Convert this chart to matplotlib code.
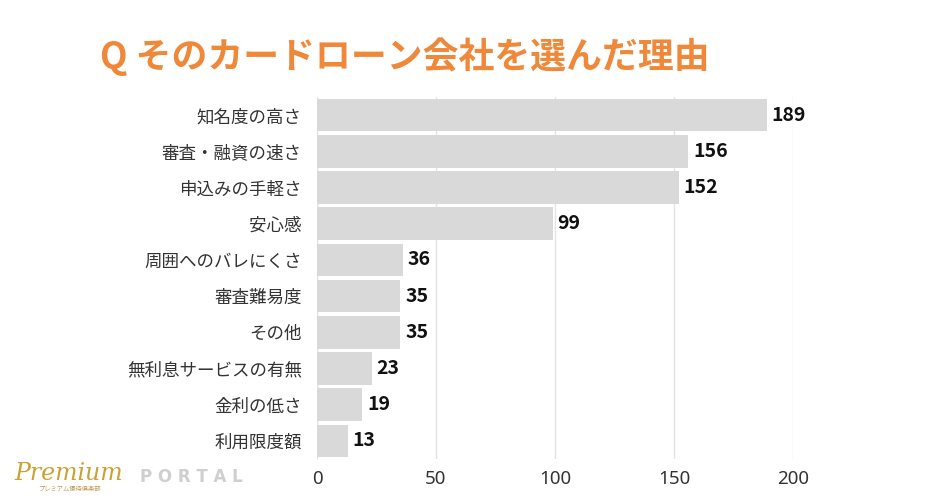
import matplotlib
matplotlib.use("Agg")
import matplotlib.pyplot as plt

plt.rcParams['font.family'] = ['Noto Sans CJK JP', 'DejaVu Sans']

categories = ["知名度の高さ", "審査・融資の速さ", "申込みの手軽さ", "安心感", "周囲へのバレにくさ",
              "審査難易度", "その他", "無利息サービスの有無", "金利の低さ", "利用限度額"]
values = [189, 156, 152, 99, 36, 35, 35, 23, 19, 13]
xticks = [0, 50, 100, 150, 200]
title = "Q そのカードローン会社を選んだ理由"

fig = plt.figure(figsize=(9.4, 5), dpi=100)
ax = fig.add_axes([317/940, 41/500, 476/940, 362/500])

ypos = list(range(len(categories)))
ax.barh(ypos, values, height=0.9, color="#D9D9D9", zorder=2)
ax.set_ylim(len(categories) - 0.5, -0.5)
ax.set_xlim(0, 200)
ax.set_xticks(xticks)
ax.set_xticklabels([str(t) for t in xticks], fontsize=13.5, color="#333333",
                   family=['Noto Sans', 'DejaVu Sans'])
ax.set_yticks(ypos)
ax.set_yticklabels(categories, fontsize=12.6, color="#333333")
ax.tick_params(axis='y', length=0, pad=11)
ax.tick_params(axis='x', length=0, pad=8)
for s in ax.spines.values():
    s.set_visible(False)
ax.grid(axis='x', color="#E3E3E3", linewidth=1, zorder=0)
ax.set_axisbelow(True)

for y, v in zip(ypos, values):
    ax.text(v + 2, y, str(v), va='center', ha='left', fontsize=14, fontweight='bold',
            color="#111111", clip_on=False)

fig.text(100/940, 1 - 57/500, title, fontsize=25.8, fontweight='bold', color="#F0883A",
         ha='left', va='center')

# logo
fig.text(14/940, 1 - 473/500, "Premium", fontsize=17, fontstyle='italic', family='DejaVu Serif',
         color="#C9A233", ha='left', va='center')
fig.text(38/940, 1 - 489/500, "プレミアム優待倶楽部", fontsize=4.5, color="#B89A50",
         ha='left', va='center')
fig.text(140/940, 1 - 477/500, "P O R T A L", fontsize=12, fontweight='bold', color="#CFCFCF",
         ha='left', va='center', family='DejaVu Sans')

fig.savefig("out.png", dpi=100, facecolor='white')
